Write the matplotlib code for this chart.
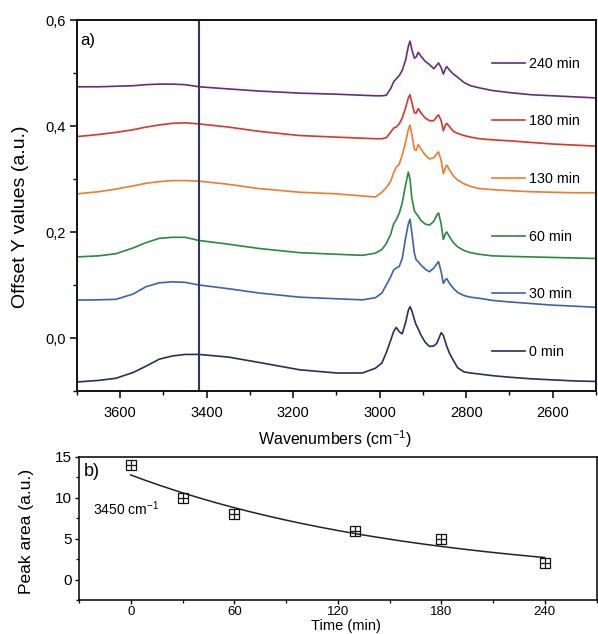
import numpy as np
import matplotlib
matplotlib.use("Agg")
import matplotlib.pyplot as plt
from matplotlib.ticker import MultipleLocator

plt.rcParams['font.family'] = ['Liberation Sans', 'DejaVu Sans']

# ---------------- data: panel a (offset FTIR spectra) ----------------
wavenumber = [3700, 3650, 3610, 3570, 3540, 3510, 3480, 3450, 3418, 3350, 3280, 3185, 3100,
              3040, 3010, 2995, 2985, 2975, 2968, 2962, 2955, 2948, 2940, 2934, 2930, 2926,
              2920, 2916, 2911, 2905, 2895, 2885, 2875, 2868, 2864, 2858, 2853, 2848, 2845,
              2838, 2830, 2820, 2805, 2790, 2770, 2740, 2700, 2650, 2600, 2550, 2500]

spec_0 = [-0.083, -0.080, -0.076, -0.065, -0.053, -0.040, -0.034, -0.031, -0.031, -0.036, -0.046,
          -0.060, -0.066, -0.066, -0.057, -0.047, -0.028, -0.005, 0.012, 0.020, 0.012, 0.008,
          0.030, 0.052, 0.059, 0.052, 0.035, 0.025, 0.017, 0.006, -0.008, -0.016, -0.015,
          -0.010, -0.002, 0.010, 0.005, -0.008, -0.016, -0.030, -0.042, -0.056, -0.064, -0.066,
          -0.068, -0.071, -0.074, -0.077, -0.079, -0.081, -0.082]
spec_30 = [0.0715, 0.072, 0.073, 0.083, 0.097, 0.104, 0.106, 0.105, 0.100, 0.093, 0.085, 0.077,
           0.074, 0.072, 0.076, 0.085, 0.100, 0.115, 0.128, 0.132, 0.135, 0.150, 0.190, 0.215,
           0.224, 0.200, 0.160, 0.148, 0.144, 0.138, 0.130, 0.125, 0.132, 0.140, 0.144, 0.125,
           0.103, 0.110, 0.112, 0.102, 0.094, 0.086, 0.080, 0.077, 0.075, 0.071, 0.068, 0.065,
           0.062, 0.060, 0.058]
spec_60 = [0.153, 0.155, 0.159, 0.170, 0.180, 0.188, 0.190, 0.190, 0.184, 0.177, 0.169, 0.161,
           0.158, 0.156, 0.160, 0.167, 0.178, 0.195, 0.215, 0.223, 0.235, 0.255, 0.290, 0.313,
           0.300, 0.265, 0.240, 0.235, 0.230, 0.222, 0.215, 0.213, 0.220, 0.232, 0.236, 0.215,
           0.186, 0.197, 0.200, 0.190, 0.180, 0.172, 0.165, 0.161, 0.158, 0.155, 0.154, 0.153,
           0.152, 0.151, 0.150]
spec_130 = [0.272, 0.276, 0.281, 0.287, 0.292, 0.295, 0.297, 0.297, 0.296, 0.290, 0.282, 0.275,
            0.272, 0.268, 0.266, 0.275, 0.284, 0.295, 0.312, 0.322, 0.328, 0.345, 0.370, 0.393,
            0.402, 0.385, 0.356, 0.354, 0.365, 0.357, 0.345, 0.338, 0.340, 0.348, 0.351, 0.335,
            0.310, 0.322, 0.326, 0.316, 0.306, 0.298, 0.291, 0.286, 0.282, 0.280, 0.278, 0.276,
            0.275, 0.274, 0.274]
spec_180 = [0.380, 0.384, 0.388, 0.393, 0.398, 0.402, 0.405, 0.406, 0.404, 0.398, 0.390, 0.382,
            0.379, 0.377, 0.376, 0.376, 0.378, 0.388, 0.396, 0.398, 0.404, 0.415, 0.435, 0.453,
            0.459, 0.445, 0.425, 0.424, 0.433, 0.425, 0.415, 0.410, 0.410, 0.418, 0.421, 0.410,
            0.391, 0.402, 0.405, 0.398, 0.390, 0.386, 0.382, 0.379, 0.376, 0.374, 0.372, 0.369,
            0.366, 0.364, 0.362]
spec_240 = [0.474, 0.474, 0.475, 0.476, 0.478, 0.479, 0.479, 0.478, 0.474, 0.470, 0.466, 0.462,
            0.460, 0.458, 0.457, 0.457, 0.458, 0.470, 0.483, 0.489, 0.495, 0.505, 0.525, 0.550,
            0.560, 0.545, 0.528, 0.530, 0.539, 0.532, 0.522, 0.516, 0.508, 0.515, 0.519, 0.510,
            0.498, 0.508, 0.512, 0.505, 0.498, 0.492, 0.482, 0.476, 0.472, 0.467, 0.463, 0.459,
            0.457, 0.455, 0.453]

series_labels = ['0 min', '30 min', '60 min', '130 min', '180 min', '240 min']
series_colors = ['#262f5e', '#3a62b0', '#278a3c', '#f27a2e', '#d8372a', '#6a2a7a']
marker_wavenumber = 3418

ytick_vals = [0.0, 0.2, 0.4, 0.6]
ytick_labels = ['0,0', '0,2', '0,4', '0,6']
xtick_vals = [3600, 3400, 3200, 3000, 2800, 2600]

# ---------------- data: panel b (peak area vs time) ----------------
time_min = [0, 30, 60, 130, 180, 240]
peak_area = [14, 10, 8, 6, 5, 2]
fit_y0, fit_A, fit_k = -0.44, 13.24, 0.006
time_ticks = [0, 60, 120, 180, 240]
area_ticks = [0, 5, 10, 15]

# ---------------- figure ----------------
W, H = 598, 634
fig = plt.figure(figsize=(W / 100, H / 100), dpi=100)

def ax_rect(x0, y0, x1, y1):
    return [x0 / W, 1 - y1 / H, (x1 - x0) / W, (y1 - y0) / H]

ax = fig.add_axes(ax_rect(77, 20, 596, 391))
spectra = [spec_0, spec_30, spec_60, spec_130, spec_180, spec_240]
handles = []
for vals, lab, col in zip(spectra, series_labels, series_colors):
    ln, = ax.plot(wavenumber, vals, color=col, lw=1.2, label=lab)
    handles.append(ln)
ax.axvline(marker_wavenumber, color='#2b3868', lw=1.5)

ax.set_xlim(3700, 2500)
ax.set_ylim(-0.1, 0.6)
ax.set_xticks(xtick_vals)
ax.set_yticks(ytick_vals, ytick_labels)
ax.xaxis.set_minor_locator(MultipleLocator(100))
ax.yaxis.set_minor_locator(MultipleLocator(0.1))
ax.tick_params(axis='both', which='major', direction='out', length=5, width=1.1,
               labelsize=10.5, top=False, right=False)
ax.tick_params(axis='both', which='minor', direction='out', length=3, width=1.0,
               top=False, right=False)
ax.tick_params(axis='x', which='major', pad=6)
ax.tick_params(axis='y', which='major', pad=3)
for sp in ax.spines.values():
    sp.set_linewidth(1.3)

ax.set_xlabel('Wavenumbers (cm$^{\\mathregular{-1}}$)', fontsize=11.5)
ax.xaxis.set_label_coords(0.497, -0.100)
ax.set_ylabel('Offset Y values (a.u.)', fontsize=14)
ax.yaxis.set_label_coords(-0.092, 0.47)
ax.text(0.007, 0.965, 'a)', transform=ax.transAxes, fontsize=12, ha='left', va='top')

ax.legend(handles=handles[::-1], loc='upper left', bbox_to_anchor=(0.799, 0.901),
          frameon=False, fontsize=10.3, borderpad=0, borderaxespad=0,
          handlelength=2.3, handletextpad=0.3, labelspacing=3.05)

# ---------------- panel b ----------------
bx = fig.add_axes(ax_rect(79, 457, 596.5, 600))
t_fit = np.linspace(time_min[0], time_min[-1], 200)
bx.plot(t_fit, fit_y0 + fit_A * np.exp(-fit_k * t_fit), color='#222222', lw=1.1)
bx.plot(time_min, peak_area, ls='none', marker='s', ms=7, mfc='none', mec='#111111', mew=0.9)
bx.plot(time_min, peak_area, ls='none', marker='+', ms=7, mec='#111111', mew=0.9)

bx.set_xlim(-30, 270)
bx.set_ylim(-2.5, 15)
bx.set_xticks(time_ticks)
bx.set_yticks(area_ticks)
bx.xaxis.set_minor_locator(MultipleLocator(30))
bx.yaxis.set_minor_locator(MultipleLocator(2.5))
bx.tick_params(axis='both', which='major', direction='out', length=3, width=1.0,
               top=False, right=False)
bx.tick_params(axis='both', which='minor', direction='out', length=2, width=0.9,
               top=False, right=False)
bx.tick_params(axis='x', which='major', labelsize=9.5, pad=1.5)
bx.tick_params(axis='y', which='major', labelsize=11, pad=2)
for sp in bx.spines.values():
    sp.set_linewidth(1.1)

bx.set_xlabel('Time (min)', fontsize=10.5)
bx.xaxis.set_label_coords(0.515, -0.136)
bx.set_ylabel('Peak area (a.u.)', fontsize=12.5)
bx.yaxis.set_label_coords(-0.087, 0.476)
bx.text(0.01, 0.96, 'b)', transform=bx.transAxes, fontsize=13, ha='left', va='top')
bx.text(-22, 8.7, '3450 cm$^{\\mathregular{-1}}$', fontsize=10, ha='left', va='center')

fig.savefig('out.png', dpi=100)
